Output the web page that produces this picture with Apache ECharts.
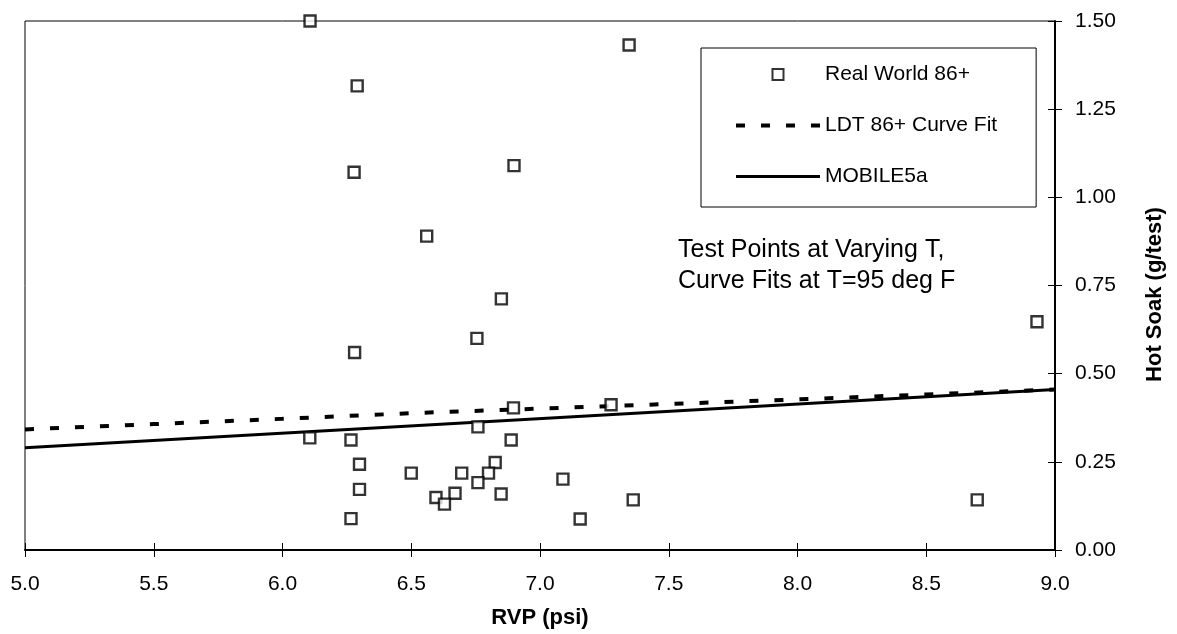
<!DOCTYPE html>
<html>
<head>
<meta charset="utf-8">
<script src="https://cdn.jsdelivr.net/npm/echarts@6/dist/echarts.min.js"></script>
<style>
html,body{margin:0;padding:0;background:#fff;}
#chart{width:1177px;height:634px;}
</style>
</head>
<body>
<div id="chart"></div>
<script>
// Real World 86+ test points: RVP (psi) and Hot Soak (g/test)
const pointRVP  = [6.107, 6.29, 6.278, 7.346, 6.899, 6.56, 6.85, 6.755, 6.28, 8.93, 6.897, 7.276, 6.759, 6.106, 6.266, 6.888, 6.299, 6.826, 6.50, 6.696, 6.80, 6.759, 7.089, 6.299, 6.670, 6.849, 6.596, 6.629, 7.362, 8.698, 6.266, 7.156];
const pointSoak = [1.50, 1.316, 1.071, 1.432, 1.09, 0.89, 0.712, 0.60, 0.56, 0.647, 0.403, 0.412, 0.349, 0.318, 0.312, 0.312, 0.243, 0.248, 0.218, 0.218, 0.218, 0.191, 0.201, 0.172, 0.161, 0.159, 0.149, 0.130, 0.142, 0.142, 0.089, 0.088];
// LDT 86+ Curve Fit
const fitRVP  = [5.0, 5.5, 6.0, 6.5, 7.0, 7.5, 8.0, 8.5, 9.0];
const fitSoak = [0.342, 0.357, 0.372, 0.388, 0.401, 0.414, 0.427, 0.441, 0.455];
// MOBILE5a
const mobRVP  = [5.0, 9.0];
const mobSoak = [0.29, 0.455];
// axis ticks
const xTicks = {min: 5.0, max: 9.0, step: 0.5};
const yTicks = {min: 0.0, max: 1.5, step: 0.25};
const seriesNames = ['Real World 86+', 'LDT 86+ Curve Fit', 'MOBILE5a'];
const noteLines = ['Test Points at Varying T,', 'Curve Fits at T=95 deg F'];

const FONT = '"Liberation Sans", Arial, sans-serif';
const zip = (a, b) => a.map((v, i) => [v, b[i]]);
const hiddenSymbol = {color: 'rgba(0,0,0,0)', borderColor: 'rgba(0,0,0,0)', borderWidth: 0};

const chart = echarts.init(document.getElementById('chart'), null, {renderer: 'canvas'});
chart.setOption({
  animation: false,
  backgroundColor: '#fff',
  textStyle: {fontFamily: FONT, color: '#000'},
  grid: {left: 25, right: 122, top: 21, bottom: 82, show: true, borderColor: '#000', borderWidth: 1, backgroundColor: 'transparent'},
  legend: {
    orient: 'vertical', left: 701, top: 48,
    padding: [16, 39, 20, 33],
    itemWidth: 84, itemHeight: 11, itemGap: 30,
    borderColor: '#000', borderWidth: 1,
    textStyle: {fontFamily: FONT, fontSize: 21, color: '#000', lineHeight: 21},
    data: [
      {name: seriesNames[0], icon: 'path://M0,0H10V10H0Z'},
      {name: seriesNames[1], itemStyle: hiddenSymbol, lineStyle: {color: '#000', width: 4, type: [9, 16]}},
      {name: seriesNames[2], itemStyle: hiddenSymbol, lineStyle: {color: '#000', width: 3, type: 'solid'}}
    ]
  },
  xAxis: [{
    type: 'value', position: 'bottom', min: xTicks.min, max: xTicks.max, interval: xTicks.step,
    name: 'RVP (psi)', nameLocation: 'middle', nameGap: 57,
    nameTextStyle: {fontFamily: FONT, fontSize: 22, fontWeight: 'bold', color: '#000'},
    axisLine: {show: true, onZero: false, lineStyle: {color: '#000', width: 2}},
    axisTick: {show: true, inside: true, length: 7, lineStyle: {color: '#000', width: 1}},
    axisLabel: {margin: 24, fontFamily: FONT, fontSize: 21, color: '#000', lineHeight: 21, formatter: v => v.toFixed(1)},
    splitLine: {show: false}
  }, {
    type: 'value', position: 'bottom', min: xTicks.min, max: xTicks.max, interval: xTicks.step,
    axisLine: {show: false, onZero: false},
    axisTick: {show: true, inside: false, length: 7, lineStyle: {color: '#000', width: 1}},
    axisLabel: {show: false}, splitLine: {show: false}
  }],
  yAxis: [{
    type: 'value', position: 'right', min: yTicks.min, max: yTicks.max, interval: yTicks.step,
    name: 'Hot Soak (g/test)', nameLocation: 'middle', nameGap: 89,
    nameTextStyle: {fontFamily: FONT, fontSize: 22, fontWeight: 'bold', color: '#000', padding: [0, 18, 0, 0]},
    axisLine: {show: true, onZero: false, lineStyle: {color: '#000', width: 2}},
    axisTick: {show: true, inside: true, length: 7, lineStyle: {color: '#000', width: 1}},
    axisLabel: {margin: 20, fontFamily: FONT, fontSize: 21, color: '#000', formatter: v => v.toFixed(2)},
    splitLine: {show: false}
  }, {
    type: 'value', position: 'right', min: yTicks.min, max: yTicks.max, interval: yTicks.step,
    axisLine: {show: false, onZero: false},
    axisTick: {show: true, inside: false, length: 7, lineStyle: {color: '#000', width: 1}},
    axisLabel: {show: false}, splitLine: {show: false}
  }],
  series: [{
    name: seriesNames[0], type: 'scatter', xAxisIndex: 0, yAxisIndex: 0,
    data: zip(pointRVP, pointSoak), symbol: 'rect', symbolSize: 11, clip: false, z: 5,
    itemStyle: {color: '#fff', borderColor: '#000', borderWidth: 2.4}
  }, {
    name: seriesNames[1], type: 'line', xAxisIndex: 0, yAxisIndex: 0,
    data: zip(fitRVP, fitSoak), symbol: 'none', z: 3,
    lineStyle: {color: '#000', width: 4, type: [9, 16]},
    itemStyle: {color: '#000'}
  }, {
    name: seriesNames[2], type: 'line', xAxisIndex: 0, yAxisIndex: 0,
    data: zip(mobRVP, mobSoak), symbol: 'none', z: 3,
    lineStyle: {color: '#000', width: 3, type: 'solid'},
    itemStyle: {color: '#000'}
  }],
  graphic: noteLines.map((t, i) => ({
    type: 'text', left: 678, top: 237.5 + i * 31,
    style: {text: t, font: '25px ' + FONT, fill: '#000'}
  }))
});
</script>
</body>
</html>
